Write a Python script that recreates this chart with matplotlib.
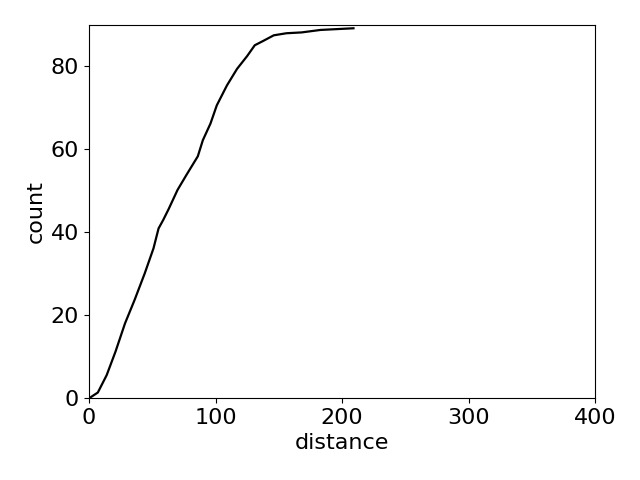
import matplotlib
matplotlib.use("Agg")
import matplotlib.pyplot as plt

# valeurs
distance = [0, 1, 7, 14, 21, 28.5, 36, 44, 51, 55, 58.6, 63, 70, 77,
            86, 90, 96, 101, 109, 117, 125, 131, 138, 146, 156, 168, 183, 209]
count = [0, 0.1, 1.3, 5.5, 11.2, 18, 23.6, 30, 36.1, 40.9, 42.9, 45.6, 50.2, 53.8,
         58.3, 62.2, 66.2, 70.6, 75.4, 79.4, 82.5, 85.1, 86.2, 87.5, 88.0, 88.2, 88.8, 89.2]

plt.rcParams['font.size'] = 16
fig, ax = plt.subplots(figsize=(6.4, 4.8), dpi=100)
ax.plot(distance, count, color='black', linewidth=1.6)
ax.set_xlim(0, 400)
ax.set_ylim(0, 90)
ax.set_xticks([0, 100, 200, 300, 400])
ax.set_yticks([0, 20, 40, 60, 80])
ax.set_xlabel("distance")
ax.set_ylabel("count")
fig.subplots_adjust(left=0.139, right=0.930, top=0.948, bottom=0.171)
fig.savefig("out.png")
